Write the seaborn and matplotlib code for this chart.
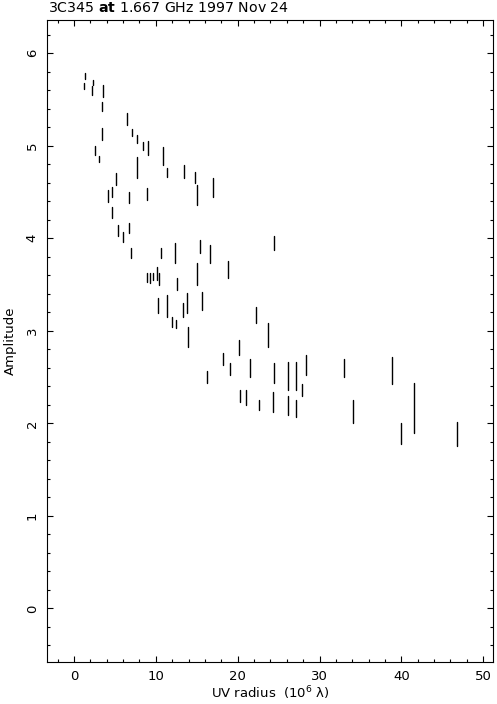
import pandas as pd
import numpy as np
import matplotlib
matplotlib.use("Agg")
import matplotlib.pyplot as plt
from matplotlib.ticker import MultipleLocator
import seaborn as sns

# visibility clusters: uv radius (10^6 lambda), amp low, amp high
uv_radius = [1.3, 1.2, 2.3, 2.2, 3.5, 3.4, 6.5, 3.4, 7.1, 7.7, 8.4, 9.0, 2.6, 3.1,
             10.9, 11.4, 7.7, 5.1, 4.6, 4.2, 6.7, 8.9, 4.6, 5.4, 6.0, 6.7, 7.0, 10.6,
             13.4, 14.8, 15.0, 17.0, 12.3, 15.4, 16.6, 18.8, 24.4, 15.0, 12.6, 8.9,
             9.3, 9.7, 10.1, 10.4, 10.3, 11.4, 13.3, 13.8, 15.6, 12.0, 12.5, 13.9,
             22.2, 23.7, 20.2, 18.2, 19.0, 16.3, 21.5, 24.4, 26.2, 26.2, 20.3, 21.0,
             22.6, 24.3, 27.1, 27.1, 28.4, 27.8, 33.0, 38.9, 34.1, 41.5, 39.9, 46.8]
amp_low = [5.72, 5.61, 5.66, 5.55, 5.53, 5.38, 5.22, 5.06, 5.11, 5.03, 4.95, 4.90, 4.90, 4.82,
           4.79, 4.66, 4.65, 4.58, 4.45, 4.39, 4.38, 4.41, 4.22, 4.03, 3.96, 4.06, 3.79, 3.79,
           4.65, 4.60, 4.36, 4.45, 3.73, 3.84, 3.73, 3.57, 3.87, 3.49, 3.44, 3.53,
           3.52, 3.55, 3.55, 3.49, 3.19, 3.15, 3.15, 3.19, 3.22, 3.04, 3.03, 2.82,
           3.08, 2.82, 2.74, 2.63, 2.52, 2.44, 2.50, 2.44, 2.36, 2.09, 2.23, 2.20,
           2.14, 2.12, 2.36, 2.07, 2.52, 2.30, 2.50, 2.43, 2.00, 1.89, 1.78, 1.76]
amp_high = [5.79, 5.68, 5.71, 5.65, 5.66, 5.47, 5.35, 5.19, 5.18, 5.12, 5.04, 5.05, 5.00, 4.89,
            4.99, 4.76, 4.88, 4.71, 4.56, 4.52, 4.50, 4.54, 4.34, 4.14, 4.07, 4.17, 3.89, 3.89,
            4.79, 4.72, 4.58, 4.65, 3.95, 3.98, 3.93, 3.76, 4.03, 3.73, 3.57, 3.62,
            3.62, 3.63, 3.69, 3.62, 3.36, 3.39, 3.30, 3.41, 3.42, 3.15, 3.12, 3.04,
            3.26, 3.08, 2.90, 2.76, 2.65, 2.57, 2.70, 2.65, 2.66, 2.30, 2.36, 2.36,
            2.25, 2.34, 2.66, 2.25, 2.74, 2.43, 2.70, 2.72, 2.25, 2.44, 2.00, 2.01]

rows = []
for i, (u, lo, hi) in enumerate(zip(uv_radius, amp_low, amp_high)):
    rows.append({"seg": i, "uv": u, "amp": lo})
    rows.append({"seg": i, "uv": u, "amp": hi})
df = pd.DataFrame(rows)

sns.set_theme(style="ticks")
plt.rcParams["font.family"] = ["DejaVu Sans"]
plt.rcParams["text.color"] = "black"
plt.rcParams["axes.labelcolor"] = "black"

fig = plt.figure(figsize=(4.97, 7.04), dpi=100)
ax = fig.add_axes([0.0946, 0.0597, 0.8974, 0.9119])

sns.lineplot(data=df, x="uv", y="amp", units="seg", estimator=None,
             color="black", linewidth=1.0, sort=False, ax=ax, legend=False)

ax.set_xlim(-3.3, 51.2)
ax.set_ylim(-0.58, 6.36)
ax.xaxis.set_major_locator(MultipleLocator(10))
ax.xaxis.set_minor_locator(MultipleLocator(2))
ax.yaxis.set_major_locator(MultipleLocator(1))
ax.yaxis.set_minor_locator(MultipleLocator(0.2))
ax.tick_params(which="both", direction="in", top=True, right=True,
               color="black", width=0.8, labelsize=9.5, labelcolor="black")
ax.tick_params(which="major", length=4.5, pad=6)
ax.tick_params(which="minor", length=2.5)
ax.tick_params(axis="y", labelrotation=90)
for lab in ax.get_yticklabels():
    lab.set_va("center")
for s in ax.spines.values():
    s.set_visible(True)
    s.set_linewidth(0.8)
    s.set_color("black")

ax.set_xlabel("UV radius  (10$^{6}$ λ)", fontsize=9.5, labelpad=1)
ax.set_ylabel("Amplitude", fontsize=9.5, labelpad=6)
fig.text(0.097, 0.983, r"3C345 $\mathbf{at}$ 1.667 GHz 1997 Nov 24",
         fontsize=10.2, va="baseline", ha="left")

fig.savefig("out.png", dpi=100)
